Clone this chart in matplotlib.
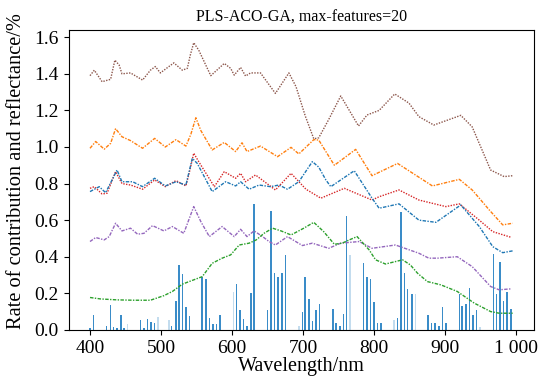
import matplotlib
matplotlib.use('Agg')
import matplotlib.pyplot as plt
from matplotlib.colors import to_rgba

plt.rcParams['font.family'] = ['Liberation Serif', 'DejaVu Serif']

## selected wavelengths and their contribution rates
bar_wl = [400, 405, 423, 429, 433, 438, 444, 448, 453, 471, 476, 481, 486, 491, 496, 511, 515,
          521, 525, 530, 535, 540, 558, 563, 568, 573, 578, 583, 602, 606, 611, 616, 621, 627,
          631, 650, 655, 660, 665, 670, 675, 694, 699, 703, 708, 713, 718, 723, 742, 746, 752,
          757, 761, 766, 785, 790, 795, 800, 805, 810, 828, 833, 838, 843, 847, 853, 858, 876,
          881, 886, 891, 896, 901, 920, 924, 929, 934, 939, 944, 949, 968, 972, 977, 982, 987, 993]
bar_rate = [0.01, 0.082, 0.02, 0.137, 0.013, 0.01, 0.082, 0.01, 0.03, 0.055, 0.01, 0.06, 0.045,
            0.037, 0.07, 0.055, 0.02, 0.158, 0.355, 0.306, 0.127, 0.077, 0.29, 0.28, 0.067, 0.03,
            0.03, 0.082, 0.206, 0.25, 0.109, 0.06, 0.02, 0.2, 0.69, 0.109, 0.65, 0.31, 0.29, 0.31,
            0.41, 0.02, 0.10, 0.29, 0.17, 0.05, 0.11, 0.14, 0.115, 0.04, 0.02, 0.085, 0.62, 0.41,
            0.365, 0.29, 0.28, 0.15, 0.04, 0.035, 0.055, 0.067, 0.643, 0.313, 0.226, 0.195, 0.195,
            0.082, 0.035, 0.035, 0.02, 0.124, 0.035, 0.197, 0.13, 0.14, 0.228, 0.082, 0.11, 0.015,
            0.414, 0.197, 0.37, 0.158, 0.207, 0.115]
faded_wl = [453, 496, 511, 602, 694, 766, 828, 858, 949]

## reflectance spectra (offset)
brown_wl = [400, 406, 417, 429, 435, 441, 445, 457, 474, 485, 492, 499, 518, 530, 537, 541, 546,
            553, 570, 589, 598, 603, 612, 619, 626, 640, 661, 680, 690, 703, 715, 722, 736, 753,
            778, 790, 807, 829, 849, 863, 884, 922, 938, 964, 983, 995]
brown_r = [1.39, 1.42, 1.357, 1.37, 1.475, 1.448, 1.40, 1.405, 1.366, 1.42, 1.44, 1.405, 1.46,
           1.42, 1.43, 1.50, 1.57, 1.53, 1.39, 1.457, 1.43, 1.393, 1.435, 1.388, 1.405, 1.405,
           1.293, 1.405, 1.33, 1.17, 1.045, 1.05, 1.15, 1.279, 1.115, 1.175, 1.20, 1.29, 1.24,
           1.166, 1.12, 1.173, 1.11, 0.874, 0.838, 0.843]

orange_wl = [400, 408, 420, 429, 436, 445, 457, 474, 491, 506, 521, 535, 542, 549, 556, 572, 589,
             605, 614, 621, 640, 664, 683, 694, 715, 722, 744, 774, 797, 833, 882, 920, 938, 948,
             962, 981, 995]
orange_r = [0.993, 1.03, 0.988, 1.02, 1.10, 1.056, 1.035, 0.993, 1.047, 1.00, 1.04, 1.005, 1.07,
            1.16, 1.09, 0.984, 1.025, 0.975, 1.023, 0.975, 1.005, 0.947, 0.998, 0.962, 1.04,
            1.038, 0.90, 0.987, 0.843, 0.91, 0.787, 0.823, 0.765, 0.72, 0.656, 0.574, 0.583]

red_wl = [400, 406, 417, 424, 436, 445, 457, 474, 491, 506, 521, 535, 541, 546, 553, 575, 589,
          605, 612, 619, 633, 661, 683, 704, 725, 758, 797, 807, 835, 863, 901, 920, 948, 967, 992]
red_r = [0.774, 0.783, 0.743, 0.747, 0.865, 0.80, 0.792, 0.769, 0.82, 0.783, 0.816, 0.787, 0.88,
         0.966, 0.92, 0.783, 0.865, 0.829, 0.856, 0.81, 0.847, 0.765, 0.856, 0.769, 0.72, 0.774,
         0.71, 0.728, 0.765, 0.71, 0.674, 0.689, 0.60, 0.537, 0.507]

blue_wl = [400, 413, 422, 438, 445, 460, 474, 491, 506, 521, 535, 544, 551, 572, 591, 605, 612,
           624, 638, 654, 666, 678, 694, 713, 722, 732, 739, 772, 797, 807, 835, 863, 887, 922,
           948, 967, 981, 995]
blue_r = [0.756, 0.783, 0.75, 0.874, 0.81, 0.81, 0.783, 0.829, 0.787, 0.81, 0.792, 0.938, 0.91,
          0.756, 0.81, 0.787, 0.81, 0.769, 0.792, 0.783, 0.792, 0.769, 0.81, 0.92, 0.89, 0.82,
          0.783, 0.87, 0.72, 0.665, 0.689, 0.60, 0.588, 0.683, 0.565, 0.455, 0.422, 0.432]

purple_wl = [400, 408, 420, 427, 436, 445, 457, 467, 476, 488, 504, 516, 532, 546, 556, 568, 586,
             603, 612, 621, 631, 643, 652, 661, 678, 699, 713, 736, 753, 779, 797, 830, 863, 877,
             889, 917, 938, 964, 976, 992]
purple_r = [0.483, 0.505, 0.492, 0.51, 0.583, 0.541, 0.556, 0.523, 0.528, 0.57, 0.541, 0.565,
            0.528, 0.674, 0.592, 0.51, 0.565, 0.51, 0.55, 0.51, 0.541, 0.51, 0.483, 0.464, 0.51,
            0.461, 0.474, 0.446, 0.474, 0.483, 0.446, 0.464, 0.419, 0.392, 0.392, 0.40, 0.346,
            0.237, 0.219, 0.224]

green_wl = [400, 415, 438, 462, 485, 504, 516, 530, 558, 572, 586, 598, 610, 624, 634, 645, 657,
            669, 683, 701, 715, 729, 744, 755, 765, 776, 793, 802, 816, 840, 851, 861, 875, 894,
            917, 941, 964, 976, 995]
green_r = [0.177, 0.169, 0.164, 0.162, 0.162, 0.187, 0.21, 0.25, 0.291, 0.364, 0.392, 0.41,
           0.464, 0.474, 0.492, 0.528, 0.556, 0.541, 0.519, 0.556, 0.588, 0.537, 0.468, 0.474,
           0.492, 0.51, 0.437, 0.383, 0.36, 0.383, 0.355, 0.31, 0.264, 0.246, 0.21, 0.146, 0.10,
           0.091, 0.091]

xticks = [400, 500, 600, 700, 800, 900, 1000]
xticklabels = ['400', '500', '600', '700', '800', '900', '1 000']
yticks = [0.0, 0.2, 0.4, 0.6, 0.8, 1.0, 1.2, 1.4, 1.6]


fig = plt.figure(figsize=(5.41, 3.84), dpi=100)
ax = fig.add_axes([0.127, 0.141, 0.860, 0.781])

## bars, a few drawn lighter
colors = [to_rgba('#3a8cc8', 0.3 if w in faded_wl else 1.0) for w in bar_wl]
ax.bar(bar_wl, bar_rate, width=2.2, color=colors, linewidth=0)

dotted = (1, 1)
dashdot = (2.5, 1, 1, 1)
ax.plot(brown_wl, brown_r, color='#8c564b', lw=1, dashes=dotted)
ax.plot(orange_wl, orange_r, color='#ff7f0e', lw=1, dashes=dashdot)
ax.plot(red_wl, red_r, color='#d62728', lw=1, dashes=dotted)
ax.plot(blue_wl, blue_r, color='#1f77b4', lw=1, dashes=dashdot)
ax.plot(purple_wl, purple_r, color='#9467bd', lw=1, dashes=dashdot)
ax.plot(green_wl, green_r, color='#2ca02c', lw=1, dashes=dashdot)

ax.set_xlim(370, 1025)
ax.set_ylim(0, 1.64)
ax.set_xticks(xticks)
ax.set_xticklabels(xticklabels)
ax.set_yticks(yticks)
ax.set_yticklabels(['%.1f' % y for y in yticks])
ax.tick_params(labelsize=14)

ax.set_xlabel('Wavelength/nm', fontsize=14.5, labelpad=0)
ax.set_ylabel('Rate of contribution and reflectance/%', fontsize=14.7)
ax.yaxis.set_label_coords(-0.092, 0.53)
ax.set_title('PLS-ACO-GA, max-features=20', fontsize=11.5, pad=6)

fig.savefig('out.png', dpi=100)
